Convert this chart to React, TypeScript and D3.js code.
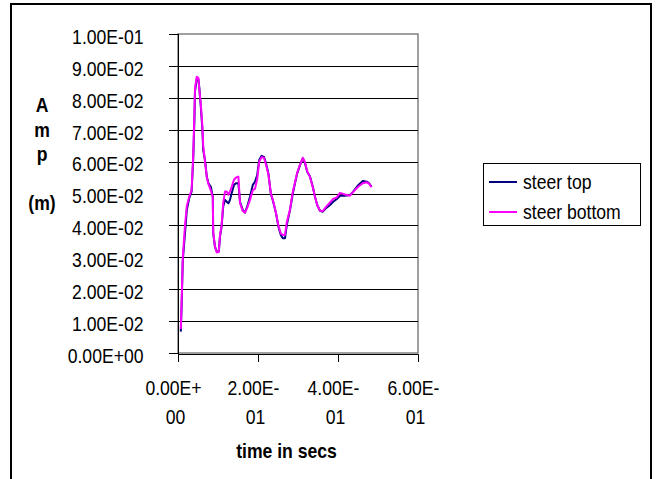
import React from "react";
import * as d3 from "d3";

const time = [0.007,0.009,0.012,0.0175,0.022,0.028,0.034,0.038,0.041,0.0425,0.047,0.051,0.053,0.057,0.061,0.063,0.0675,0.072,0.076,0.082,0.087,0.088,0.0925,0.097,0.102,0.105,0.109,0.113,0.1175,0.122,0.126,0.13,0.134,0.14,0.145,0.151,0.155,0.162,0.1675,0.173,0.18,0.187,0.1925,0.198,0.203,0.209,0.215,0.22,0.226,0.232,0.238,0.245,0.251,0.257,0.262,0.2675,0.272,0.28,0.287,0.2925,0.298,0.305,0.312,0.3175,0.323,0.33,0.337,0.3425,0.348,0.355,0.362,0.37,0.38,0.388,0.397,0.405,0.4175,0.43,0.438,0.451,0.462,0.472,0.478,0.484];

const steerTop = [0.0067,0.0145,0.029,0.0376,0.0448,0.0485,0.0506,0.0605,0.073,0.082,0.0861,0.0858,0.0835,0.0772,0.07,0.0636,0.0605,0.0553,0.0532,0.0521,0.049,0.0375,0.0333,0.0318,0.0318,0.0365,0.0396,0.0459,0.048,0.0474,0.0469,0.048,0.05,0.0527,0.0532,0.0532,0.0474,0.0448,0.044,0.0459,0.049,0.0527,0.0537,0.0558,0.0605,0.0618,0.0615,0.0595,0.0563,0.05,0.0474,0.0438,0.0396,0.037,0.036,0.036,0.0401,0.0448,0.05,0.0532,0.0563,0.0589,0.061,0.0595,0.0568,0.0553,0.0521,0.049,0.0464,0.0446,0.0443,0.0454,0.0464,0.0474,0.0483,0.0493,0.0493,0.0495,0.0506,0.0527,0.0539,0.0537,0.0532,0.0521];

const steerBottom = [0.0075,0.016,0.03,0.04,0.046,0.049,0.051,0.062,0.075,0.083,0.0866,0.0862,0.083,0.078,0.071,0.065,0.06,0.055,0.053,0.051,0.0488,0.038,0.0333,0.0315,0.0318,0.037,0.04,0.047,0.0506,0.0506,0.0496,0.0506,0.052,0.0543,0.055,0.0553,0.047,0.0445,0.044,0.0455,0.048,0.051,0.0515,0.0545,0.06,0.0614,0.0612,0.059,0.056,0.0502,0.0476,0.0438,0.04,0.0375,0.037,0.037,0.041,0.045,0.0505,0.0535,0.0565,0.059,0.0612,0.0598,0.057,0.0552,0.052,0.049,0.0464,0.0446,0.0445,0.0458,0.0472,0.0483,0.0488,0.0502,0.0497,0.0493,0.0505,0.0522,0.0532,0.0535,0.053,0.052];

const yTicks = [0, 0.01, 0.02, 0.03, 0.04, 0.05, 0.06, 0.07, 0.08, 0.09, 0.1];
const xTicks = [0, 0.2, 0.4, 0.6];
const seriesNames = ["steer top", "steer bottom"];
const seriesColors = ["#000080", "#FF00FF"];
const xTitle = "time in secs";
const yTitleLines = ["A", "m", "p", "", "(m)"];

const FONT = "'Liberation Sans', Arial, sans-serif";
const SX = 0.88;

function fmtE(v: number): string {
  if (v === 0) return "0.00E+00";
  let e = Math.floor(Math.log10(Math.abs(v)) + 1e-9);
  let m = v / Math.pow(10, e);
  if (Math.abs(m) >= 9.995) { m /= 10; e += 1; }
  const sign = e < 0 ? "-" : "+";
  const ae = Math.abs(e);
  return m.toFixed(2) + "E" + sign + (ae < 10 ? "0" + ae : String(ae));
}

function T(props: { x: number; y: number; anchor?: string; bold?: boolean; size?: number; children: React.ReactNode }) {
  const { x, y, anchor = "start", bold = false, size = 20, children } = props;
  return (
    <text
      transform={`translate(${x},${y}) scale(${SX},1)`}
      textAnchor={anchor as any}
      fontFamily={FONT}
      fontSize={size}
      fontWeight={bold ? "bold" : "normal"}
      fill="#000"
    >
      {children}
    </text>
  );
}

export default function App() {
  const x = d3.scaleLinear().domain([0, 0.6]).range([178, 418]);
  const y = d3.scaleLinear().domain([0, 0.1]).range([353, 34]);
  const line = d3
    .line<[number, number]>()
    .x((d) => x(d[0]))
    .y((d) => y(d[1]));
  const topPts: [number, number][] = time.map((t, i) => [t, steerTop[i]]);
  const botPts: [number, number][] = time.map((t, i) => [t, steerBottom[i]]);

  return (
    <svg
      width={660}
      height={479}
      style={{ position: "absolute", left: 0, top: 0, background: "#fff" }}
    >
      <rect x={0} y={0} width={660} height={479} fill="#fff" />
      {/* outer border */}
      <rect x={11} y={4} width={640} height={500} fill="none" stroke="#000" strokeWidth={2} />

      {/* plot area border */}
      <rect x={x(0)} y={y(0.1)} width={x(0.6) - x(0)} height={y(0) - y(0.1)} fill="#fff" stroke="#808080" strokeWidth={1.5} />

      {/* gridlines */}
      {yTicks.filter((v) => v > 0 && v < 0.1).map((v) => (
        <line key={"g" + v} x1={x(0)} x2={x(0.6)} y1={Math.round(y(v)) + 0.5} y2={Math.round(y(v)) + 0.5} stroke="#000" strokeWidth={1} />
      ))}

      {/* axes */}
      <line x1={x(0) + 0.5} x2={x(0) + 0.5} y1={y(0.1)} y2={y(0) + 1.5} stroke="#000" strokeWidth={1} />
      <line x1={x(0)} x2={x(0.6) + 0.5} y1={y(0) + 1.5} y2={y(0) + 1.5} stroke="#000" strokeWidth={1} />

      {/* y ticks & labels */}
      {yTicks.map((v) => (
        <g key={"y" + v}>
          <line x1={169} x2={x(0)} y1={Math.round(y(v)) + 0.5} y2={Math.round(y(v)) + 0.5} stroke="#000" strokeWidth={1} />
          <T x={143.5} y={y(v) + 9.8} anchor="end">{fmtE(v)}</T>
        </g>
      ))}

      {/* x ticks & labels */}
      {xTicks.map((v) => {
        const s = fmtE(v);
        return (
          <g key={"x" + v}>
            <line x1={Math.round(x(v)) + 0.5} x2={Math.round(x(v)) + 0.5} y1={y(0) + 1.5} y2={y(0) + 9} stroke="#000" strokeWidth={1} />
            <T x={x(v) - 4.5} y={395} anchor="middle">{s.slice(0, 6)}</T>
            <T x={x(v) - 2.5} y={424} anchor="middle">{s.slice(6)}</T>
          </g>
        );
      })}

      {/* series */}
      <path d={line(topPts) || ""} fill="none" stroke={seriesColors[0]} strokeWidth={2} strokeLinejoin="round" />
      <path d={line(botPts) || ""} fill="none" stroke={seriesColors[1]} strokeWidth={2} strokeLinejoin="round" />

      {/* axis titles */}
      <T x={286.5} y={458} anchor="middle" bold>{xTitle}</T>
      {yTitleLines.map((s, i) => (
        <T key={"yt" + i} x={42} y={112 + i * 24.5} anchor="middle" bold>{s}</T>
      ))}

      {/* legend */}
      <rect x={483.5} y={163.5} width={157} height={62} fill="#fff" stroke="#000" strokeWidth={1} />
      {seriesNames.map((n, i) => (
        <g key={"lg" + i}>
          <line x1={489} x2={517} y1={182 + i * 30} y2={182 + i * 30} stroke={seriesColors[i]} strokeWidth={2} />
          <T x={523} y={188.5 + i * 30.5}>{n}</T>
        </g>
      ))}
    </svg>
  );
}
